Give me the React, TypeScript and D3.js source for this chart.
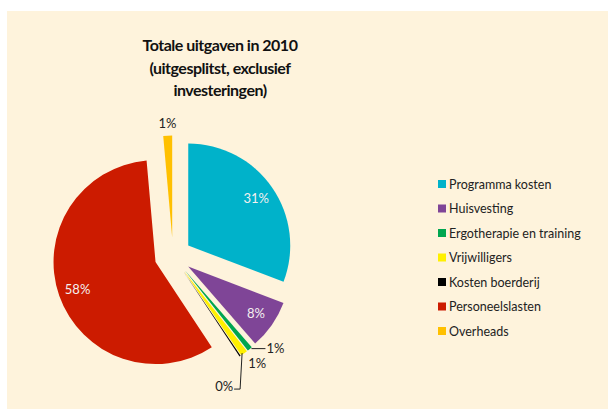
import React, { useRef, useEffect } from "react";
import * as d3 from "d3";

// categories + values (percent of total spending)
const categories = [
  "Programma kosten",
  "Huisvesting",
  "Ergotherapie en training",
  "Vrijwilligers",
  "Kosten boerderij",
  "Personeelslasten",
  "Overheads",
];
const values = [30.8, 7.8, 0.8, 1.1, 0.2, 57.9, 1.4];
const colors = ["#00b2ca", "#7f4597", "#00a650", "#fff000", "#000000", "#cc1b00", "#ffc000"];
const titleLines = ["Totale uitgaven in 2010", "(uitgesplitst, exclusief", "investeringen)"];

const W = 608;
const H = 409;
const FONT = "Lato, 'Open Sans', sans-serif";

const App = () => {
  const svgRef = useRef<SVGSVGElement>(null);

  useEffect(() => {
    const svg = d3.select(svgRef.current);
    svg.selectAll("*").remove();

    svg.append("rect")
      .attr("x", 7).attr("y", 11)
      .attr("width", W - 7).attr("height", H - 11)
      .attr("fill", "#fef3dc");

    // title
    svg.append("g")
      .selectAll("text")
      .data(titleLines)
      .enter()
      .append("text")
      .attr("x", 220)
      .attr("y", (d, i) => 51 + i * 22.5)
      .attr("text-anchor", "middle")
      .style("font-family", FONT)
      .style("font-size", "16px")
      .style("letter-spacing", "-0.5px")
      .style("font-weight", "bold")
      .attr("fill", "#111")
      .text(d => d);

    const cx = 173, cy = 256, r = 102, explode = 18.5;
    const data = categories.map((c, i) => ({ name: c, value: values[i], color: colors[i] }));
    const total = d3.sum(values);

    const pie = d3.pie<any>().sort(null).value(d => d.value);
    const arcs = pie(data);
    const arc = d3.arc<any>().innerRadius(0).outerRadius(r);

    const dir = (a: any) => {
      const m = (a.startAngle + a.endAngle) / 2;
      return [Math.sin(m), -Math.cos(m)];
    };

    const g = svg.append("g").attr("transform", `translate(${cx},${cy})`);

    g.selectAll(".slice")
      .data(arcs)
      .enter()
      .append("path")
      .attr("class", "slice")
      .attr("transform", d => {
        const [dx, dy] = dir(d);
        return `translate(${dx * explode},${dy * explode})`;
      })
      .attr("d", arc)
      .attr("fill", d => d.data.color);

    const pct = (v: number) => `${Math.round((v / total) * 100)}%`;

    // labels inside the big slices
    const inside = arcs.filter(d => d.data.value > 5);
    g.selectAll(".inlabel")
      .data(inside)
      .enter()
      .append("text")
      .attr("class", "inlabel")
      .attr("x", d => dir(d)[0] * (explode + r * 0.81))
      .attr("y", d => dir(d)[1] * (explode + r * 0.81) + 4.5)
      .attr("text-anchor", "middle")
      .style("font-family", FONT)
      .style("font-size", "13px")
      .attr("fill", "#f4f0f0")
      .text(d => pct(d.data.value));

    const outer = (d: any, extra = 0) => {
      const [dx, dy] = dir(d);
      return [dx * (explode + r + extra), dy * (explode + r + extra)];
    };
    const labelStyle = (t: any) =>
      t.style("font-family", FONT).style("font-size", "13px").attr("fill", "#222");

    // Overheads label above
    const ov = arcs[6];
    const [ox, oy] = outer(ov, 8);
    labelStyle(g.append("text").attr("x", ox).attr("y", oy).attr("text-anchor", "middle").text(pct(ov.data.value)));

    // Ergotherapie: leader to the right
    const er = arcs[2];
    const [ex, ey] = outer(er, 1);
    g.append("path")
      .attr("d", `M${ex + 1},${ey - 1}L${ex + 15},${ey - 1}`)
      .attr("stroke", "#222").attr("fill", "none");
    labelStyle(g.append("text").attr("x", ex + 16).attr("y", ey + 3.5).text(pct(er.data.value)));

    // Vrijwilligers: next to the tip
    const vr = arcs[3];
    const [vx, vy] = outer(vr, 0);
    labelStyle(g.append("text").attr("x", vx + 13).attr("y", vy + 15).attr("text-anchor", "middle").text(pct(vr.data.value)));

    // Kosten boerderij: leader down and left
    const bo = arcs[4];
    const [bx, by] = outer(bo, 0);
    g.append("path")
      .attr("d", `M${bx + 2},${by - 3}L${bx},${by + 33}L${bx - 6},${by + 33}`)
      .attr("stroke", "#222").attr("fill", "none");
    labelStyle(g.append("text").attr("x", bx - 7).attr("y", by + 34.5).attr("text-anchor", "end").text(pct(bo.data.value)));

    // legend
    const lg = svg.append("g").attr("transform", "translate(438,184)");
    const item = lg.selectAll(".item")
      .data(data)
      .enter()
      .append("g")
      .attr("class", "item")
      .attr("transform", (d, i) => `translate(0,${i * 24.5})`);
    item.append("rect")
      .attr("x", 0).attr("y", -4)
      .attr("width", 8).attr("height", 8)
      .attr("fill", d => d.color);
    item.append("text")
      .attr("x", 11).attr("y", 4.5)
      .style("font-family", FONT)
      .style("font-size", "12.5px")
      .attr("fill", "#222")
      .text(d => d.name);
  }, []);

  return (
    <svg
      ref={svgRef}
      width={W}
      height={H}
      style={{ position: "absolute", left: 0, top: 0, background: "#ffffff" }}
    ></svg>
  );
};

export default App;
